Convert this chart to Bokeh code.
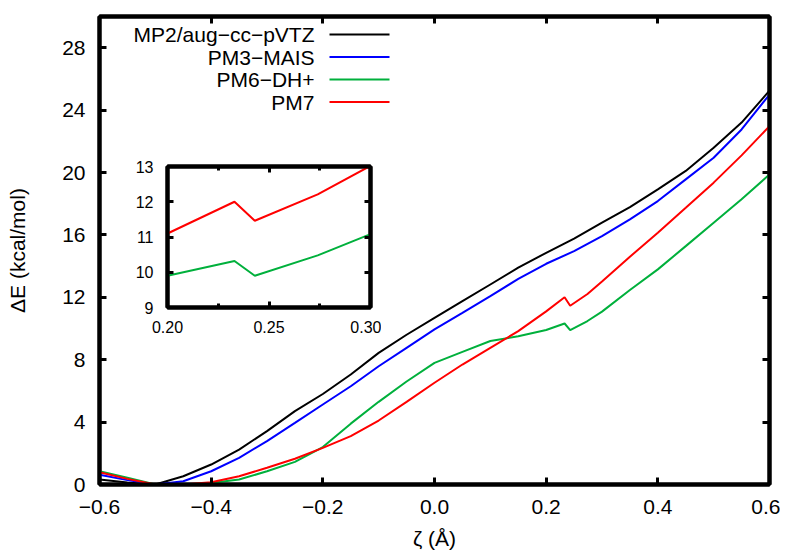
from bokeh.plotting import figure
from bokeh.models import (FixedTicker, LinearAxis, Label, BoxAnnotation, Range1d)
from bokeh.layouts import column
from bokeh.embed import file_html
from bokeh.resources import INLINE

# ---------------- data ----------------
zeta = [-0.6, -0.55, -0.5, -0.45, -0.4, -0.35, -0.3, -0.25, -0.2, -0.15, -0.1, -0.05,
        0.0, 0.05, 0.1, 0.15, 0.2, 0.25, 0.3, 0.35, 0.4, 0.45, 0.5, 0.55, 0.6]
mp2 = [0.32, 0.13, 0.0, 0.53, 1.28, 2.24, 3.42, 4.70, 5.80, 7.05, 8.44, 9.60,
       10.68, 11.75, 12.82, 13.90, 14.85, 15.76, 16.78, 17.78, 18.92, 20.10, 21.59, 23.20, 25.25]
pm3 = [0.62, 0.28, 0.0, 0.21, 0.85, 1.71, 2.78, 3.95, 5.13, 6.30, 7.58, 8.76,
       9.94, 11.00, 12.07, 13.18, 14.15, 14.96, 15.92, 16.99, 18.17, 19.56, 20.95, 22.76, 25.00]

zeta_pm = [-0.6, -0.55, -0.5, -0.45, -0.4, -0.35, -0.3, -0.25, -0.2, -0.15, -0.1, -0.05,
           0.0, 0.05, 0.1, 0.15, 0.2, 0.233, 0.243, 0.274, 0.3, 0.35, 0.4, 0.45, 0.5, 0.55, 0.6]
pm6 = [0.85, 0.43, 0.0, 0.0, 0.10, 0.32, 0.85, 1.45, 2.40, 3.90, 5.30, 6.60,
       7.80, 8.50, 9.20, 9.50, 9.90, 10.32, 9.90, 10.48, 11.08, 12.47, 13.79, 15.28, 16.78, 18.28, 19.88]
pm7 = [0.79, 0.36, 0.0, 0.0, 0.15, 0.53, 1.07, 1.65, 2.35, 3.10, 4.10, 5.30,
       6.52, 7.69, 8.76, 9.83, 11.10, 12.00, 11.46, 12.21, 13.02, 14.60, 16.14, 17.74, 19.35, 21.10, 22.97]

series_names = ["MP2/aug\u2212cc\u2212pVTZ", "PM3\u2212MAIS", "PM6\u2212DH+", "PM7"]
series_colors = ["#000000", "#0000ff", "#00b03c", "#ff0000"]

x_ticks = [-0.6, -0.4, -0.2, 0.0, 0.2, 0.4, 0.6]
x_tick_labels = ["\u22120.6", "\u22120.4", "\u22120.2", "0.0", "0.2", "0.4", "0.6"]
y_ticks = [0, 4, 8, 12, 16, 20, 24, 28]
y_tick_labels = ["0", "4", "8", "12", "16", "20", "24", "28"]

inset_x_ticks = [0.20, 0.25, 0.30]
inset_x_minor = [0.225, 0.275]
inset_x_labels = ["0.20", "0.25", "0.30"]
inset_y_ticks = [9, 10, 11, 12, 13]
inset_y_labels = ["9", "10", "11", "12", "13"]

FONT = "Liberation Sans"
LW = 4


def style_axis(ax, size, tick_in, show_labels=True):
    ax.axis_line_width = LW
    ax.axis_line_color = "black"
    ax.major_tick_in = tick_in
    ax.major_tick_out = 0
    ax.major_tick_line_width = 3
    ax.minor_tick_in = 4
    ax.minor_tick_out = 0
    ax.minor_tick_line_width = 3
    ax.major_label_text_font = FONT
    ax.major_label_text_font_size = size
    ax.major_label_text_color = "black" if show_labels else None
    ax.axis_label_text_font = FONT
    ax.axis_label_text_font_size = size
    ax.axis_label_text_font_style = "normal"
    ax.axis_label_text_color = "black"
    if not show_labels:
        ax.major_label_standoff = 0


# ---------------- main figure ----------------
p = figure(frame_width=670, frame_height=468, x_range=Range1d(-0.6, 0.6), y_range=Range1d(0, 30),
           output_backend="svg", toolbar_location=None,
           min_border_left=99, min_border_right=11, min_border_top=16, min_border_bottom=52,
           x_axis_label="\u03b6 (\u00c5)", y_axis_label="\u0394E (kcal/mol)")
p.grid.visible = False
p.outline_line_color = "black"
p.outline_line_width = LW

xb = p.below[0]
yl = p.left[0]
xb.ticker = FixedTicker(ticks=x_ticks, minor_ticks=[])
xb.major_label_overrides = dict(zip(x_ticks, x_tick_labels))
yl.ticker = FixedTicker(ticks=y_ticks, minor_ticks=[])
yl.major_label_overrides = dict(zip(y_ticks, y_tick_labels))
extra_top = LinearAxis(ticker=FixedTicker(ticks=x_ticks, minor_ticks=[]))
extra_right = LinearAxis(ticker=FixedTicker(ticks=y_ticks, minor_ticks=[]))
p.add_layout(extra_top, "above")
p.add_layout(extra_right, "right")

style_axis(xb, "21px", 7)
style_axis(yl, "21px", 7)
style_axis(extra_top, "21px", 7, show_labels=False)
style_axis(extra_right, "21px", 7, show_labels=False)
xb.major_label_standoff = 15
xb.axis_label_standoff = 10
yl.major_label_standoff = 14
yl.axis_label_standoff = 30

p.line(zeta, mp2, line_color=series_colors[0], line_width=2)
p.line(zeta, pm3, line_color=series_colors[1], line_width=2)
p.line(zeta_pm, pm6, line_color=series_colors[2], line_width=2)
p.line(zeta_pm, pm7, line_color=series_colors[3], line_width=2)

# legend (text right-aligned, sample on the right) in screen units
row_h = 22.5
for i, (name, col) in enumerate(zip(series_names, series_colors)):
    y_screen = 468 - 18 - i * row_h
    p.add_layout(Label(x=215, y=y_screen, x_units="screen", y_units="screen", text=name,
                       text_align="right", text_baseline="middle", text_font=FONT,
                       text_font_size="21px", text_color="black"))
    p.add_layout(BoxAnnotation(left=230, right=290, top=y_screen + 1, bottom=y_screen - 1,
                               left_units="screen", right_units="screen",
                               top_units="screen", bottom_units="screen",
                               fill_color=col, fill_alpha=1.0, line_color=None))

# ---------------- inset ----------------
# the column aligns the left/right borders with the main figure (99 / 11)
inset = figure(width=313, height=190, x_range=Range1d(0.2, 0.3), y_range=Range1d(9, 13),
               output_backend="svg", toolbar_location=None,
               min_border_left=99, min_border_right=11, min_border_top=8, min_border_bottom=41,
               styles={"position": "absolute", "left": "68px", "top": "158px",
                       "width": "313px", "height": "190px"})
inset.grid.visible = False
inset.outline_line_color = "black"
inset.outline_line_width = LW
inset.border_fill_alpha = 0

ixb = inset.below[0]
iyl = inset.left[0]
ixb.ticker = FixedTicker(ticks=inset_x_ticks, minor_ticks=inset_x_minor)
ixb.major_label_overrides = dict(zip(inset_x_ticks, inset_x_labels))
iyl.ticker = FixedTicker(ticks=inset_y_ticks, minor_ticks=[])
iyl.major_label_overrides = dict(zip(inset_y_ticks, inset_y_labels))
i_top = LinearAxis(ticker=FixedTicker(ticks=inset_x_ticks, minor_ticks=inset_x_minor))
i_right = LinearAxis(ticker=FixedTicker(ticks=inset_y_ticks, minor_ticks=[]))
inset.add_layout(i_top, "above")
inset.add_layout(i_right, "right")
style_axis(ixb, "16px", 6)
style_axis(iyl, "16px", 6)
style_axis(i_top, "16px", 6, show_labels=False)
style_axis(i_right, "16px", 6, show_labels=False)
ixb.major_label_standoff = 13
iyl.major_label_standoff = 14

inset.line(zeta_pm, pm6, line_color=series_colors[2], line_width=2)
inset.line(zeta_pm, pm7, line_color=series_colors[3], line_width=2)

layout = column(p, inset, styles={"position": "relative"})
open("out.html", "w").write(file_html(layout, INLINE))
